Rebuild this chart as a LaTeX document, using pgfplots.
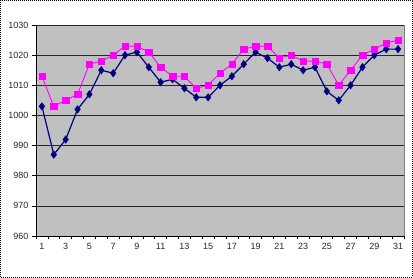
\documentclass[border=0pt]{standalone}
\usepackage{pgfplots}
\pgfplotsset{compat=1.18}
\usepackage{fontspec}
\setmainfont{Liberation Sans}
\definecolor{navy}{RGB}{0,0,128}
\definecolor{mag}{RGB}{255,0,255}
\definecolor{bg}{RGB}{192,192,192}
\begin{document}
\begin{tikzpicture}[x=1pt,y=1pt]
\path[use as bounding box] (0,0) rectangle (413,278);
\draw[dash pattern=on 1pt off 1pt, line width=0.8pt] (0.5,0.5) rectangle (412.5,277.5);
\begin{axis}[
  at={(36pt,42pt)}, anchor=south west,
  scale only axis, width=368pt, height=211pt,
  xmin=0.5, xmax=31.5, ymin=960, ymax=1030,
  axis background/.style={fill=bg, draw=gray, line width=0.8pt},
  axis x line*=bottom, axis y line*=left,
  x axis line style={-, black, line width=0.8pt},
  y axis line style={-, black, line width=0.8pt},
  xtick={1,3,...,31},
  minor xtick={0.5,1.5,...,31.5},
  ytick={960,970,...,1030},
  tick align=outside,
  major tick length=4pt, minor tick length=3pt,
  every major x tick/.append style={draw=none},
  tick style={black, line width=0.6pt},
  ymajorgrids, major grid style={black!85, line width=0.7pt},
  /pgf/number format/assume math mode=true,
  /pgf/number format/1000 sep={},
  ticklabel style={font=\fontsize{9}{10}\selectfont, text=black!85},
  clip=false,
]
\addplot[color=navy, line width=1.2pt, mark=diamond*, mark size=3.8pt, mark options={fill=navy, solid, line width=0.4pt}] coordinates {
(1,1003)(2,987)(3,992)(4,1002)(5,1007)(6,1015)(7,1014)(8,1020)(9,1021)(10,1016)
(11,1011)(12,1012)(13,1009)(14,1006)(15,1006)(16,1010)(17,1013)(18,1017)(19,1021)(20,1019)
(21,1016)(22,1017)(23,1015)(24,1016)(25,1008)(26,1005)(27,1010)(28,1016)(29,1020)(30,1022)(31,1022)};
\addplot[color=mag, line width=0.9pt, mark=square*, mark size=3.2pt, mark options={fill=mag, solid, line width=0.3pt}] coordinates {
(1,1013)(2,1003)(3,1005)(4,1007)(5,1017)(6,1018)(7,1020)(8,1023)(9,1023)(10,1021)
(11,1016)(12,1013)(13,1013)(14,1009)(15,1010)(16,1014)(17,1017)(18,1022)(19,1023)(20,1023)
(21,1019)(22,1020)(23,1018)(24,1018)(25,1017)(26,1010)(27,1015)(28,1020)(29,1022)(30,1024)(31,1025)};
\end{axis}
\end{tikzpicture}
\end{document}
